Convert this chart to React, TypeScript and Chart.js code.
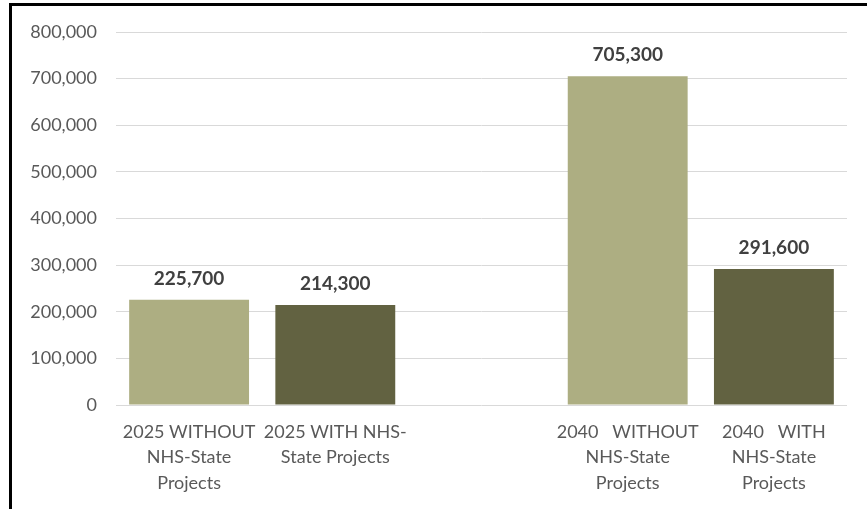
import React, { useEffect, useRef } from "react";
import { Chart, registerables } from "chart.js";

Chart.register(...registerables);

const categories: (string | string[])[] = [
  ["2025 WITHOUT", "NHS-State", "Projects"],
  ["2025 WITH NHS-", "State Projects"],
  "",
  ["2040   WITHOUT", "NHS-State", "Projects"],
  ["2040   WITH", "NHS-State", "Projects"],
];
const values: (number | null)[] = [225700, 214300, null, 705300, 291600];
const barColors = ["#ADAE82", "#626241", "#ADAE82", "#ADAE82", "#626241"];
const yMax = 800000;
const yStep = 100000;

const FONT = "Lato, 'Open Sans', sans-serif";

const dataLabelPlugin = {
  id: "dataLabels",
  afterDatasetsDraw(chart: any) {
    const ctx = chart.ctx;
    const meta = chart.getDatasetMeta(0);
    ctx.save();
    ctx.font = `bold 19px ${FONT}`;
    ctx.fillStyle = "#404040";
    ctx.textAlign = "center";
    ctx.textBaseline = "middle";
    meta.data.forEach((bar: any, i: number) => {
      const v = values[i];
      if (v == null) return;
      ctx.fillText(v.toLocaleString("en-US"), bar.x, bar.y - 21);
    });
    ctx.restore();
  },
};

export default function App() {
  const ref = useRef<HTMLCanvasElement>(null);
  useEffect(() => {
    if (!ref.current) return;
    const chart = new Chart(ref.current, {
      type: "bar",
      data: {
        labels: categories,
        datasets: [
          {
            data: values,
            backgroundColor: barColors,
            borderWidth: 0,
            categoryPercentage: 1,
            barPercentage: 0.82,
          },
        ],
      },
      options: {
        animation: false,
        responsive: false,
        maintainAspectRatio: false,
        layout: { padding: { left: 0, right: 20, top: 32, bottom: 0 } },
        plugins: {
          legend: { display: false },
          tooltip: { enabled: false },
        },
        scales: {
          x: {
            grid: { display: false, drawTicks: false },
            border: { display: false },
            ticks: {
              autoSkip: false,
              maxRotation: 0,
              minRotation: 0,
              padding: 14,
              color: "#595959",
              font: { family: FONT, size: 18, lineHeight: 25.5 / 18 },
            },
            afterFit: (s: any) => {
              s.height = 104;
            },
          },
          y: {
            min: 0,
            max: yMax,
            grid: { color: "#D9D9D9", lineWidth: 1, drawTicks: false },
            border: { display: false },
            ticks: {
              stepSize: yStep,
              padding: 19,
              color: "#595959",
              font: { family: FONT, size: 18 },
              callback: (v: any) => Number(v).toLocaleString("en-US"),
            },
            afterFit: (s: any) => {
              s.width = 116;
            },
          },
        },
      },
      plugins: [dataLabelPlugin],
    });
    return () => chart.destroy();
  }, []);

  return (
    <div
      style={{
        position: "fixed",
        left: 0,
        top: 0,
        width: 867,
        height: 509,
        background: "#fff",
        overflow: "hidden",
      }}
    >
      <canvas
        ref={ref}
        width={867}
        height={509}
        style={{ position: "absolute", left: 0, top: 0, width: 867, height: 509 }}
      />
      <div
        style={{
          position: "absolute",
          left: 9,
          top: 3,
          width: 900,
          height: 600,
          borderLeft: "3px solid #000",
          borderTop: "3px solid #000",
          boxSizing: "border-box",
        }}
      />
    </div>
  );
}
